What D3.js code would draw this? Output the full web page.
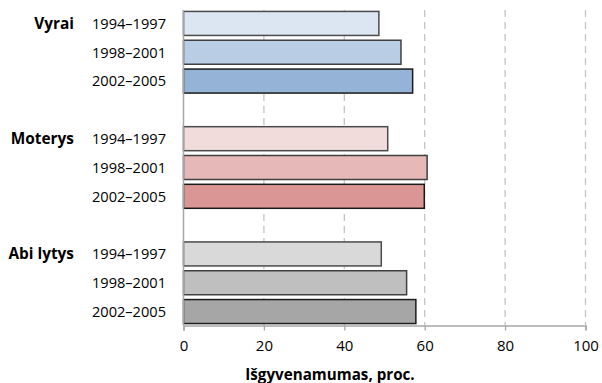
<!DOCTYPE html>
<html><head><meta charset="utf-8">
<script src="https://cdn.jsdelivr.net/npm/d3@7"></script>
<style>body{margin:0;background:#fff}svg{display:block}</style>
</head><body>
<svg id="c" width="602" height="383"></svg>
<script>
const groups = ["Vyrai", "Moterys", "Abi lytys"];
const periods = ["1994–1997", "1998–2001", "2002–2005"];
const vyrai = [48.6, 54.1, 57.0];
const moterys = [50.8, 60.6, 59.9];
const abi = [49.2, 55.5, 57.8];
const xTicks = [0, 20, 40, 60, 80, 100];
const xTitle = "Išgyvenamumas, proc.";
const fills = [["#dce6f2", "#b9cde5", "#95b3d7"], ["#f2dcdb", "#e6b9b8", "#d99694"], ["#d9d9d9", "#bfbfbf", "#a6a6a6"]];
const strokes = ["#4a4a4a", "#404040", "#1a1a1a"];

const seriesVals = [vyrai, moterys, abi];
const rows = [];
const slots = [];
groups.forEach((g, gi) => {
  periods.forEach((p, pi) => {
    const key = g + "|" + p;
    slots.push(key);
    rows.push({key, group: g, gi, period: p, pi, value: seriesVals[gi][pi]});
  });
  if (gi < groups.length - 1) slots.push("gap" + gi);
});

const font = "'Open Sans', sans-serif";
const svg = d3.select("#c");
const x = d3.scaleLinear().domain([0, 100]).range([183.5, 585.5]);
const y = d3.scaleBand().domain(slots).range([10, 325]).paddingInner(0.167).paddingOuter(0.05);

svg.append("g").selectAll("line").data(xTicks.filter(d => d > 0)).join("line")
  .attr("x1", d => x(d)).attr("x2", d => x(d)).attr("y1", 10).attr("y2", 325)
  .attr("stroke", "#c4c4c4").attr("stroke-width", 1.3).attr("stroke-dasharray", "7,5");

svg.append("g").selectAll("rect").data(rows).join("rect")
  .attr("x", x(0)).attr("y", d => y(d.key))
  .attr("width", d => x(d.value) - x(0)).attr("height", y.bandwidth())
  .attr("fill", d => fills[d.gi][d.pi])
  .attr("stroke", d => strokes[d.pi]).attr("stroke-width", 1.5);

svg.append("line").attr("x1", x(0)).attr("x2", x(0)).attr("y1", 10).attr("y2", 325.5)
  .attr("stroke", "#a6a6a6").attr("stroke-width", 1.5);

const ax = svg.append("g").attr("transform", "translate(0,325.5)")
  .call(d3.axisBottom(x).tickValues(xTicks).tickSize(5).tickPadding(10));
ax.select(".domain").attr("stroke", "#a6a6a6").attr("stroke-width", 1.5);
ax.selectAll(".tick line").attr("stroke", "#a6a6a6").attr("stroke-width", 1.3);
ax.selectAll(".tick text").attr("font-family", font).attr("font-size", 15).attr("fill", "#000");

svg.append("g").selectAll("text").data(rows).join("text")
  .attr("x", 166).attr("y", d => y(d.key) + y.bandwidth() / 2)
  .attr("dy", "0.36em").attr("text-anchor", "end")
  .attr("font-family", font).attr("font-size", 14.6).attr("fill", "#000")
  .text(d => d.period);

svg.append("g").selectAll("text").data(groups).join("text")
  .attr("x", 74).attr("y", (g) => y(g + "|" + periods[0]) + y.bandwidth() / 2)
  .attr("dy", "0.36em").attr("text-anchor", "end")
  .attr("font-family", font).attr("font-size", 15.4).attr("font-weight", "bold").attr("fill", "#000")
  .text(d => d);

svg.append("text").attr("x", 330).attr("y", 380).attr("text-anchor", "middle")
  .attr("font-family", font).attr("font-size", 15.2).attr("font-weight", "bold").attr("fill", "#000")
  .text(xTitle);
</script>
</body></html>
